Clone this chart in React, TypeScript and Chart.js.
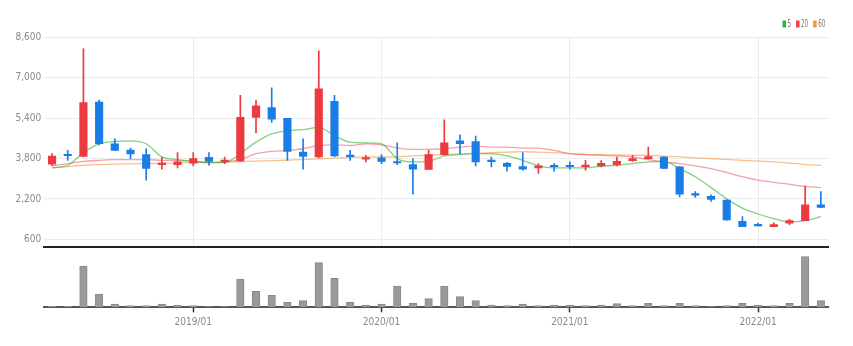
import React, { useEffect, useRef } from 'react';
import { Chart, registerables } from 'chart.js';

Chart.register(...registerables);

const months = [
  '2018/04', '2018/05', '2018/06', '2018/07', '2018/08', '2018/09', '2018/10', '2018/11', '2018/12',
  '2019/01', '2019/02', '2019/03', '2019/04', '2019/05', '2019/06', '2019/07', '2019/08', '2019/09', '2019/10', '2019/11', '2019/12',
  '2020/01', '2020/02', '2020/03', '2020/04', '2020/05', '2020/06', '2020/07', '2020/08', '2020/09', '2020/10', '2020/11', '2020/12',
  '2021/01', '2021/02', '2021/03', '2021/04', '2021/05', '2021/06', '2021/07', '2021/08', '2021/09', '2021/10', '2021/11', '2021/12',
  '2022/01', '2022/02', '2022/03', '2022/04', '2022/05',
];

const openPrices = [
  3575, 3950, 3888, 6040, 4385, 4138, 3954, 3560, 3563, 3614,
  3849, 3680, 3708, 5430, 5821, 5391, 4060, 3864, 6068, 3910,
  3780, 3825, 3655, 3563, 3367, 3954, 4502, 4475, 3710, 3614,
  3485, 3434, 3505, 3505, 3480, 3512, 3563, 3720, 3798, 3864,
  3473, 2390, 2310, 2154, 1320, 1165, 1109, 1242, 1344, 1970,
];
const highPrices = [
  3993, 4123, 8142, 6119, 4580, 4216, 4189, 3864, 4033, 4033,
  4033, 3864, 6303, 6119, 6604, 5391, 4580, 8064, 6303, 4123,
  3927, 3954, 4424, 3798, 4123, 5336, 4737, 4686, 3864, 3650,
  4033, 3602, 3602, 3669, 3731, 3720, 3864, 3927, 4255, 3880,
  3480, 2494, 2361, 2170, 1500, 1242, 1253, 1398, 2714, 2494,
];
const lowPrices = [
  3524, 3731, 3870, 4345, 4110, 3798, 2948, 3379, 3434, 3512,
  3535, 3602, 3690, 4815, 5234, 3731, 3379, 3830, 3880, 3731,
  3669, 3602, 3563, 2389, 3367, 3930, 3993, 3512, 3473, 3300,
  3340, 3210, 3300, 3379, 3340, 3473, 3512, 3692, 3790, 3390,
  2283, 2260, 2103, 1350, 1100, 1130, 1100, 1187, 1340, 1860,
];
const closePrices = [
  3903, 3910, 6017, 4385, 4122, 3982, 3406, 3600, 3669, 3798,
  3692, 3715, 5430, 5884, 5363, 4083, 3888, 6565, 3903, 3875,
  3820, 3692, 3625, 3379, 3954, 4424, 4385, 3669, 3680, 3485,
  3379, 3512, 3475, 3475, 3510, 3614, 3692, 3798, 3880, 3406,
  2389, 2355, 2181, 1371, 1109, 1135, 1187, 1344, 1970, 1868,
];

const ma5 = [
  3434, 3536, 4033, 4385, 4475, 4502, 4385, 3864, 3759, 3692,
  3641, 3641, 3993, 4451, 4776, 4905, 4945, 5038, 4710, 4451,
  4424, 4385, 3798, 3669, 3692, 3903, 3954, 3993, 3993, 3903,
  3731, 3512, 3434, 3434, 3434, 3496, 3536, 3602, 3669, 3692,
  3406, 3081, 2651, 2205, 1841, 1606, 1422, 1293, 1344, 1500,
];
const ma20 = [
  3512, 3602, 3692, 3731, 3759, 3759, 3759, 3731, 3719, 3692,
  3641, 3669, 3770, 3993, 4083, 4123, 4189, 4318, 4346, 4318,
  4385, 4346, 4217, 4162, 4162, 4189, 4256, 4295, 4256, 4256,
  4217, 4217, 4123, 3993, 3954, 3927, 3903, 3864, 3759, 3669,
  3602, 3512, 3406, 3250, 3081, 2948, 2858, 2780, 2702, 2651,
];
const ma60 = [
  3434, 3485, 3536, 3563, 3582, 3594, 3602, 3614, 3629, 3641,
  3649, 3661, 3680, 3700, 3719, 3739, 3759, 3786, 3817, 3849,
  3864, 3864, 3876, 3903, 3935, 3962, 3986, 4013, 4033, 4052,
  4072, 4052, 4033, 3993, 3966, 3954, 3946, 3935, 3923, 3896,
  3864, 3829, 3798, 3766, 3731, 3700, 3669, 3622, 3563, 3536,
];

const volumes = [
  20000, 20000, 826000, 266000, 66000, 34000, 34000, 66000, 46000, 34000,
  14000, 14000, 566000, 320000, 240000, 106000, 134000, 894000, 580000, 100000,
  46000, 66000, 426000, 80000, 174000, 426000, 214000, 134000, 46000, 34000,
  66000, 34000, 46000, 46000, 34000, 46000, 74000, 34000, 80000, 34000,
  80000, 34000, 14000, 34000, 80000, 46000, 34000, 80000, 1014000, 134000,
];

const priceTicks = [600, 2200, 3800, 5400, 7000, 8600];

const RED = '#ec3a40';
const BLUE = '#1a7de6';
const FONT = '"Liberation Sans Narrow", "DejaVu Sans Condensed", "Liberation Sans", Arial, sans-serif';

const maSeries = [
  { label: '5', data: ma5, line: 'rgba(60,185,60,0.65)', box: '#27b83a' },
  { label: '20', data: ma20, line: 'rgba(240,80,100,0.55)', box: '#ef3b4a' },
  { label: '60', data: ma60, line: 'rgba(245,150,60,0.6)', box: '#f59a35' },
];

const isJan = (i: number) => typeof i === 'number' && months[i] !== undefined && months[i].endsWith('/01');

const legendPlugin = {
  id: 'maLegend',
  afterDraw(chart: any) {
    const ctx = chart.ctx as CanvasRenderingContext2D;
    ctx.save();
    ctx.font = '10px ' + FONT;
    ctx.textBaseline = 'middle';
    const y = 24;
    const squeeze = 0.62;
    const boxW = 3.5;
    const gapBox = 1.5;
    const gapItem = 5;
    let x = 782.5;
    maSeries.forEach((s) => {
      ctx.fillStyle = s.box;
      ctx.fillRect(x, y - 3.5, boxW, 7);
      x += boxW + gapBox;
      ctx.fillStyle = '#777';
      ctx.save();
      ctx.translate(x, y + 0.5);
      ctx.scale(squeeze, 1);
      ctx.fillText(s.label, 0, 0);
      ctx.restore();
      x += ctx.measureText(s.label).width * squeeze + gapItem;
    });
    ctx.restore();
  },
};

export default function App() {
  const mainRef = useRef<HTMLCanvasElement>(null);
  const volRef = useRef<HTMLCanvasElement>(null);

  useEffect(() => {
    const colors = closePrices.map((c, i) => (c >= openPrices[i] ? RED : BLUE));
    const tickFont = { family: FONT, size: 10 };

    const main = new Chart(mainRef.current as HTMLCanvasElement, {
      type: 'bar',
      data: {
        labels: months,
        datasets: [
          ...maSeries.map((s) => ({
            type: 'line' as const,
            label: s.label,
            data: s.data,
            borderColor: s.line,
            borderWidth: 1.3,
            pointRadius: 0,
            cubicInterpolationMode: 'monotone' as const,
            order: 3,
          })),
          {
            type: 'bar' as const,
            label: 'wick',
            data: lowPrices.map((l, i) => [l, highPrices[i]]),
            backgroundColor: colors,
            barThickness: 1,
            grouped: false,
            order: 2,
          },
          {
            type: 'bar' as const,
            label: 'body',
            data: openPrices.map((o, i) => [Math.min(o, closePrices[i]), Math.max(o, closePrices[i])]),
            backgroundColor: colors,
            barThickness: 7.5,
            minBarLength: 1.5,
            grouped: false,
            order: 1,
          },
        ] as any,
      },
      options: {
        animation: false,
        responsive: false,
        maintainAspectRatio: false,
        layout: { padding: { top: 37.3, right: 24.3, bottom: 6.6, left: 0 } },
        plugins: { legend: { display: false }, tooltip: { enabled: false } },
        scales: {
          x: {
            offset: true,
            grid: {
              offset: false,
              drawTicks: false,
              color: (c: any) => (isJan(c.tick ? c.tick.value : c.index) ? '#ececec' : 'rgba(0,0,0,0)'),
            },
            ticks: { display: false, autoSkip: false },
            border: { display: true, color: '#222', width: 2 },
          },
          y: {
            min: 300,
            max: 8600,
            afterBuildTicks: (s: any) => {
              s.ticks = priceTicks.map((v) => ({ value: v }));
            },
            afterFit: (s: any) => {
              s.width = 44.2;
            },
            ticks: {
              padding: 3,
              color: '#888',
              font: tickFont,
              callback: (v: any) => Number(v).toLocaleString('en-US'),
            },
            grid: { color: '#ececec', drawTicks: false },
            border: { display: false },
          },
        },
      } as any,
      plugins: [legendPlugin],
    });

    const vol = new Chart(volRef.current as HTMLCanvasElement, {
      type: 'bar',
      data: {
        labels: months,
        datasets: [
          {
            label: 'volume',
            data: volumes,
            backgroundColor: '#9a9a9a',
            borderColor: '#888',
            borderWidth: 1,
            barThickness: 7.5,
          },
        ],
      },
      options: {
        animation: false,
        responsive: false,
        maintainAspectRatio: false,
        layout: { padding: { top: 2, right: 24.3, bottom: 13.7, left: 0 } },
        plugins: { legend: { display: false }, tooltip: { enabled: false } },
        scales: {
          x: {
            offset: true,
            grid: {
              offset: false,
              drawOnChartArea: false,
              drawTicks: true,
              tickLength: 5,
              tickWidth: 1.5,
              tickColor: (c: any) => (isJan(c.tick ? c.tick.value : c.index) ? '#333' : 'rgba(0,0,0,0)'),
            },
            border: { display: true, color: '#555', width: 2 },
            ticks: {
              autoSkip: false,
              maxRotation: 0,
              minRotation: 0,
              padding: 4,
              color: '#888',
              font: tickFont,
              callback: (_v: any, i: number) => (isJan(i) ? months[i] : ''),
            },
          },
          y: {
            min: 0,
            max: Math.max(...volumes) * 1.09,
            ticks: { display: false },
            grid: { display: false },
            border: { display: false },
            afterFit: (s: any) => {
              s.width = 44.2;
            },
          },
        },
      } as any,
    });

    return () => {
      main.destroy();
      vol.destroy();
    };
  }, []);

  return (
    <div style={{ position: 'absolute', left: 0, top: 0, width: 853, height: 346, background: '#fff' }}>
      <canvas ref={mainRef} width={853} height={256} style={{ position: 'absolute', left: 0, top: 0, display: 'block' }} />
      <canvas ref={volRef} width={853} height={96} style={{ position: 'absolute', left: 0, top: 250, display: 'block' }} />
    </div>
  );
}
